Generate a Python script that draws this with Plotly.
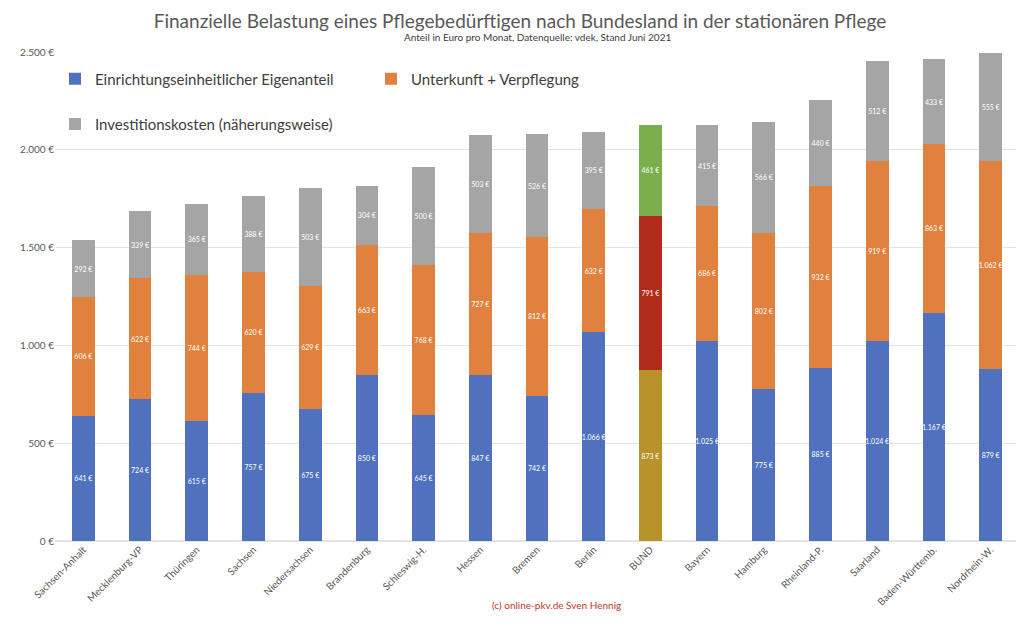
import plotly.graph_objects as go

categories = ["Sachsen-Anhalt", "Mecklenburg-VP", "Thüringen", "Sachsen", "Niedersachsen",
              "Brandenburg", "Schleswig-H.", "Hessen", "Bremen", "Berlin", "BUND", "Bayern",
              "Hamburg", "Rheinland-P.", "Saarland", "Baden-Württemb.", "Nordrhein-W."]
eigenanteil = [641, 724, 615, 757, 675, 850, 645, 847, 742, 1066, 873, 1025, 775, 885, 1024, 1167, 879]
unterkunft = [606, 622, 744, 620, 629, 663, 768, 727, 812, 632, 791, 686, 802, 932, 919, 863, 1062]
investition = [292, 339, 365, 388, 503, 304, 500, 503, 526, 395, 461, 415, 566, 440, 512, 433, 555]
series_names = ["Einrichtungseinheitlicher Eigenanteil", "Unterkunft + Verpflegung",
                "Investitionskosten (näherungsweise)"]
base_colors = ["#4F71BE", "#E0823D", "#A5A5A5"]
bund_colors = ["#B8922A", "#B22B1B", "#7BAF4E"]
highlight = "BUND"

fig = go.Figure()
legends = ["legend", "legend", "legend2"]
for name, vals, col, bcol, lg in zip(series_names, [eigenanteil, unterkunft, investition],
                                     base_colors, bund_colors, legends):
    colors = [bcol if c == highlight else col for c in categories]
    fig.add_trace(go.Bar(
        x=categories, y=vals, name=name, legend=lg,
        marker=dict(color=colors, line=dict(width=0)),
        texttemplate="%{y:,.0f} €", textposition="inside", insidetextanchor="middle",
        textangle=0,
        textfont=dict(color="white", size=7, family="Lato"),
        hoverinfo="skip",
    ))

fig.update_layout(
    barmode="stack", bargap=0.6,
    width=1024, height=626,
    margin=dict(l=36, r=13, t=44, b=93),
    paper_bgcolor="white", plot_bgcolor="white",
    separators=",.",
    font=dict(family="Lato", color="#595959"),
    title=dict(text="Finanzielle Belastung eines Pflegebedürftigen nach Bundesland in der stationären Pflege",
               x=0.5, xanchor="center", y=0.979, yanchor="middle",
               font=dict(size=19, color="#595959", family="Lato")),
    uniformtext=dict(mode="show", minsize=7),
    showlegend=True,
    legend=dict(orientation="h", x=0.0, y=0.945, xanchor="left", yanchor="middle",
                entrywidth=271, traceorder="normal",
                font=dict(size=15, color="#404040"), bgcolor="rgba(0,0,0,0)",
                itemwidth=30),
    legend2=dict(orientation="h", x=0.0, y=0.852, xanchor="left", yanchor="middle",
                 font=dict(size=15, color="#404040"), bgcolor="rgba(0,0,0,0)", itemwidth=30),
    annotations=[
        dict(text="Anteil in Euro pro Monat, Datenquelle: vdek, Stand Juni 2021",
             xref="paper", yref="paper", x=0.5, y=1.0, yshift=15, yanchor="middle",
             showarrow=False, font=dict(size=10, color="#404040")),
        dict(text="(c) online-pkv.de Sven Hennig", xref="paper", yref="paper",
             x=0.52, y=0, yshift=-64, yanchor="middle", showarrow=False,
             font=dict(size=10, color="#C0392B")),
    ],
)
fig.update_xaxes(tickangle=-45, tickfont=dict(size=10, color="#595959"), showline=False,
                 showgrid=False, ticks="")
fig.update_yaxes(range=[0, 2500], dtick=500, tickformat=",.0f", ticksuffix=" €",
                 gridcolor="#E4E4E4", zeroline=True, zerolinecolor="#E4E4E4",
                 tickfont=dict(size=10, color="#595959"), ticks="")

fig.write_html("out.html")
